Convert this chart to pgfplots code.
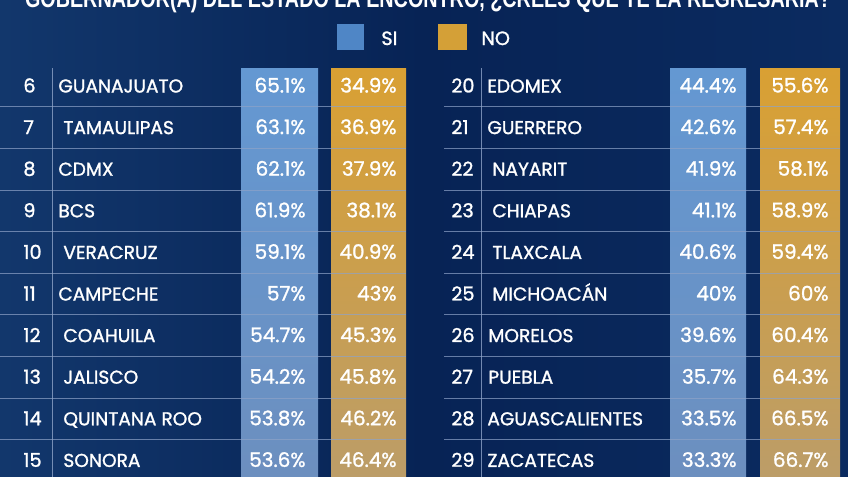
\documentclass[border=0pt]{standalone}
\usepackage{pgfplots}
\pgfplotsset{compat=1.18}
\usepackage{pgfplotstable}
\usepackage{fontspec}
\setmainfont{Poppins}
\newfontfamily\tabfont{Poppins}[FakeBold=1.3]
\newfontfamily\titlefont{Liberation Sans}
\definecolor{bgL}{HTML}{12376C}
\definecolor{bgM}{HTML}{072355}
\definecolor{bgR}{HTML}{0B2B60}
\definecolor{blueT}{HTML}{6498D2}
\definecolor{blueB}{HTML}{6C8FBF}
\definecolor{goldT}{HTML}{D9A033}
\definecolor{goldB}{HTML}{BC9D68}
\definecolor{legBlue}{HTML}{4F86C6}
\definecolor{legGold}{HTML}{D4A037}
\definecolor{rowline}{HTML}{8EA3C8}

\pgfplotstableread{
rank name nx si no
6 GUANAJUATO 58 65.1 34.9
7 TAMAULIPAS 63 63.1 36.9
8 CDMX 58 62.1 37.9
9 BCS 58 61.9 38.1
10 VERACRUZ 63 59.1 40.9
11 CAMPECHE 58 57 43
12 COAHUILA 63 54.7 45.3
13 JALISCO 63 54.2 45.8
14 {QUINTANA ROO} 63 53.8 46.2
15 SONORA 63 53.6 46.4
}\lefttab

\pgfplotstableread{
rank name nx si no
20 EDOMEX 487 44.4 55.6
21 GUERRERO 487 42.6 57.4
22 NAYARIT 492 41.9 58.1
23 CHIAPAS 492 41.1 58.9
24 TLAXCALA 492 40.6 59.4
25 MICHOACÁN 492 40 60
26 MORELOS 488 39.6 60.4
27 PUEBLA 488 35.7 64.3
28 AGUASCALIENTES 487 33.5 66.5
29 ZACATECAS 487 33.3 66.7
}\righttab

\pgfplotsset{
  txt/.style 2 args={draw=none, mark=none, point meta=explicit symbolic,
    nodes near coords align=center,
    every node near coord/.append style={anchor=#1, inner sep=0pt, text=white,
      font=\tabfont\fontsize{#2}{11pt}\selectfont}},
}

\begin{document}
\begin{tikzpicture}
\path[use as bounding box] (0,0) rectangle (424pt,238.5pt);
\clip (0,0) rectangle (424pt,238.5pt);
\begin{axis}[hide axis, scale only axis, width=424pt, height=238.5pt,
  at={(0,0)}, anchor=south west,
  xmin=0, xmax=848, ymin=0, ymax=477, y dir=reverse, clip=false]
  % background
  \shade[left color=bgL, right color=bgR, middle color=bgM]
    (axis cs:0,0) rectangle (axis cs:848,477);
  % title (cut at the top edge, as in the reference)
  \node[anchor=base, text=white, inner sep=0pt] at (axis cs:428,7)
    {\resizebox{403pt}{\height}{\titlefont\bfseries\fontsize{13pt}{15pt}\selectfont GOBERNADOR(A) DEL ESTADO LA ENCONTRO, ¿CREES QUE TE LA REGRESARIA?}};
  % legend
  \fill[legBlue] (axis cs:337,24) rectangle (axis cs:364,50);
  \fill[legGold] (axis cs:438,24) rectangle (axis cs:467,50);
  \node[anchor=base west, text=white, inner sep=0pt, font=\tabfont\fontsize{9.6pt}{11pt}\selectfont] at (axis cs:381,45) {SI};
  \node[anchor=base west, text=white, inner sep=0pt, font=\tabfont\fontsize{9.6pt}{11pt}\selectfont] at (axis cs:481,45) {NO};
  % column strips
  \fill[top color=blueT, bottom color=blueB] (axis cs:241,68) rectangle (axis cs:318,477);
  \fill[top color=goldT, bottom color=goldB] (axis cs:331,68) rectangle (axis cs:406,477);
  \fill[top color=blueT, bottom color=blueB] (axis cs:670,68) rectangle (axis cs:746,477);
  \fill[top color=goldT, bottom color=goldB] (axis cs:760,68) rectangle (axis cs:840,477);
  % separators
  \draw[rowline, line width=0.5pt, opacity=0.8] (axis cs:52,68) -- (axis cs:52,477);
  \draw[rowline, line width=0.5pt, opacity=0.8] (axis cs:481,68) -- (axis cs:481,477);
  \pgfplotsinvokeforeach{1,...,9}{
    \draw[rowline, line width=0.5pt, opacity=0.7] (axis cs:0,{65.2+41.6*#1}) -- (axis cs:406,{65.2+41.6*#1});
    \draw[rowline, line width=0.5pt, opacity=0.7] (axis cs:444,{65.2+41.6*#1}) -- (axis cs:840,{65.2+41.6*#1});
  }
  % left half
  \addplot[txt={base west}{9.6pt}, nodes near coords={\pgfplotspointmeta}]
    table[x expr=23, y expr=\coordindex*41.6+92.5, meta=rank] {\lefttab};
  \addplot[txt={base west}{9.3pt}, nodes near coords={\pgfplotspointmeta}]
    table[x=nx, y expr=\coordindex*41.6+92.5, meta=name] {\lefttab};
  \addplot[txt={base east}{10pt}, nodes near coords={\pgfplotspointmeta\%}]
    table[x expr=306, y expr=\coordindex*41.6+92.5, meta=si] {\lefttab};
  \addplot[txt={base east}{10pt}, nodes near coords={\pgfplotspointmeta\%}]
    table[x expr=397, y expr=\coordindex*41.6+92.5, meta=no] {\lefttab};
  % right half
  \addplot[txt={base west}{9.6pt}, nodes near coords={\pgfplotspointmeta}]
    table[x expr=451, y expr=\coordindex*41.6+92.5, meta=rank] {\righttab};
  \addplot[txt={base west}{9.3pt}, nodes near coords={\pgfplotspointmeta}]
    table[x=nx, y expr=\coordindex*41.6+92.5, meta=name] {\righttab};
  \addplot[txt={base east}{10pt}, nodes near coords={\pgfplotspointmeta\%}]
    table[x expr=737, y expr=\coordindex*41.6+92.5, meta=si] {\righttab};
  \addplot[txt={base east}{10pt}, nodes near coords={\pgfplotspointmeta\%}]
    table[x expr=829, y expr=\coordindex*41.6+92.5, meta=no] {\righttab};
\end{axis}
\end{tikzpicture}
\end{document}
